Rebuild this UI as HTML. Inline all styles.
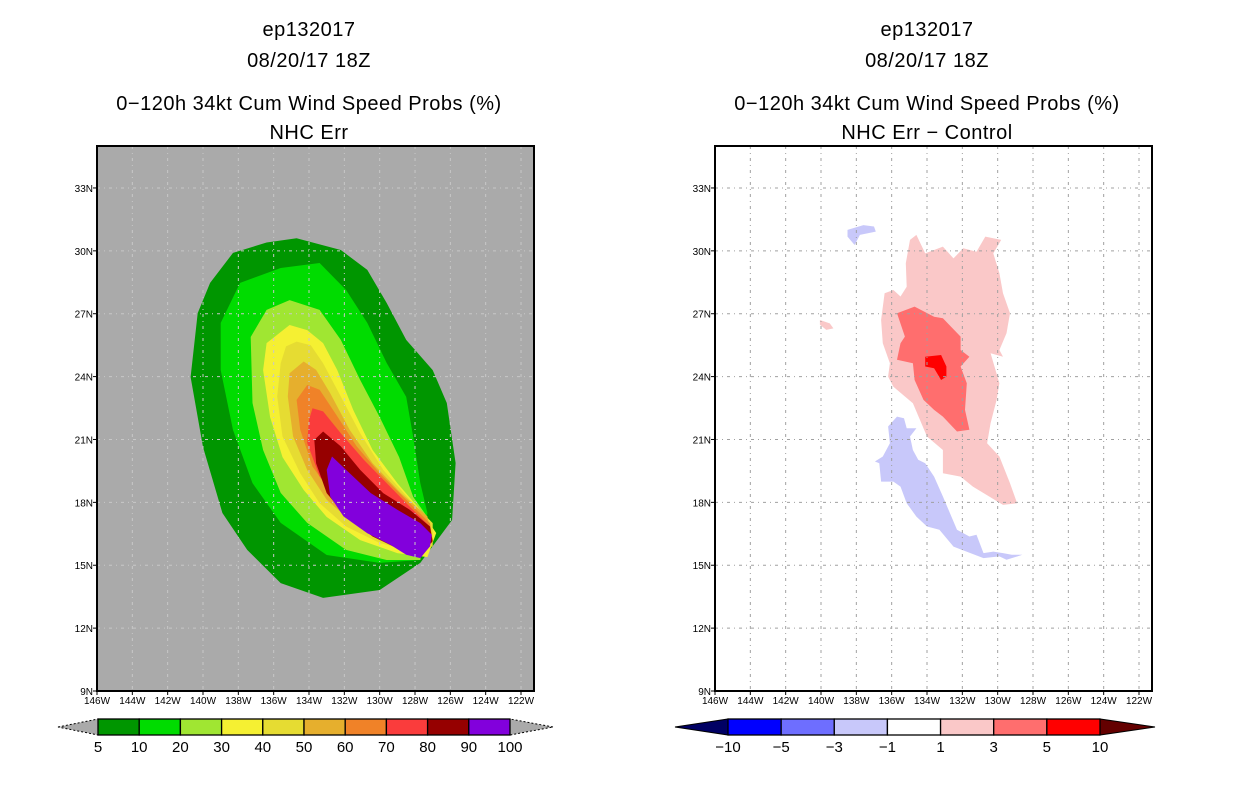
<!DOCTYPE html>
<html><head><meta charset="utf-8"><style>
body{margin:0;background:#fff;width:1236px;height:800px;overflow:hidden}
svg{display:block}
text{font-family:"Liberation Sans",sans-serif}
</style></head><body>
<svg id="fig" width="1236" height="800" viewBox="0 0 1236 800">
<g id="left"></g>
<g id="right"></g>
</svg>
<script>
// ---- data ----
const lonTicks=[146,144,142,140,138,136,134,132,130,128,126,124,122];
const latTicks=[9,12,15,18,21,24,27,30,33];
const probLevels=[5,10,20,30,40,50,60,70,80,90,100];
const probColors=["#009600","#00dc00","#a0e632","#f5f032","#e6dc32","#e6af2d","#f08228","#fa3c3c","#960000","#8200dc"];
const diffLevels=["-10","-5","-3","-1","1","3","5","10"];
const diffColors=["#0000ff","#6e6eff","#c8c8fa","#ffffff","#fac8c8","#ff6e6e","#ff0000"];
// contours in [deg W, deg N]
const p5=[[134.7,30.6],[132.2,30.04],[130.7,29.09],[129.6,27.51],[128.5,25.75],[127.0,24.31],[126.2,22.74],[125.7,19.88],[125.9,17.16],[127.7,15.11],[130.0,13.82],[133.2,13.44],[135.6,14.15],[137.5,15.73],[138.9,17.49],[140.0,20.64],[140.7,23.98],[140.3,27.03],[139.6,28.47],[138.3,29.9],[136.4,30.4]];
const p10=[[135.6,29.18],[133.4,29.42],[131.9,28.13],[130.7,26.56],[129.6,24.65],[128.5,23.03],[128.1,21.12],[127.7,18.92],[127.3,17.49],[127.7,15.25],[130.0,15.11],[133.0,15.49],[135.6,17.02],[137.2,18.92],[138.3,21.45],[139.0,24.31],[139.0,26.56],[137.9,28.47]];
const p20=[[135.1,27.65],[133.4,27.18],[132.2,25.75],[131.1,23.84],[130.0,22.07],[128.9,20.16],[128.1,18.26],[127.3,17.3],[127.7,15.25],[129.6,15.25],[131.9,15.73],[134.1,17.02],[135.6,18.45],[136.6,20.5],[137.2,22.74],[137.3,25.89],[136.4,27.18]];
const p30=[[135.1,26.46],[134.1,26.22],[133.2,25.6],[132.4,24.31],[131.5,22.41],[130.4,20.5],[129.0,18.92],[127.7,17.64],[126.8,16.54],[127.3,15.39],[129.0,15.58],[131.1,16.2],[133.0,17.3],[134.3,18.59],[135.5,20.16],[136.2,22.07],[136.6,24.31],[136.4,25.6]];
const p40=[[134.7,25.67],[133.9,25.5],[133.2,24.64],[132.2,23.05],[131.1,21.3],[129.8,19.55],[128.3,18.12],[127.0,17.01],[127.0,15.9],[128.1,15.66],[130.0,16.06],[131.9,16.85],[133.4,17.96],[134.5,19.39],[135.5,21.14],[135.8,23.05],[135.6,24.64],[135.3,25.44]];
const p50=[[134.3,24.72],[133.6,24.32],[132.8,23.21],[131.7,21.46],[130.4,19.87],[128.8,18.44],[127.3,17.33],[127.0,16.06],[128.1,15.82],[129.6,16.21],[131.5,17.01],[133.0,18.12],[134.1,19.55],[134.9,21.14],[135.2,23.05],[135.1,24.16]];
const p60=[[134.1,23.6],[133.4,23.37],[132.4,22.1],[131.3,20.67],[130.0,19.39],[128.5,18.12],[127.15,17.01],[127.0,16.14],[128.1,15.82],[129.4,16.21],[131.1,17.17],[132.6,18.28],[133.8,19.71],[134.5,21.46],[134.7,22.89]];
const p70=[[133.8,22.49],[133.2,22.34],[132.2,21.3],[130.9,20.03],[129.6,18.92],[128.3,17.8],[127.15,16.85],[127.05,16.14],[127.9,15.66],[129.0,15.9],[130.7,16.85],[132.2,17.96],[133.4,19.24],[134.1,20.83],[134.0,21.94]];
const p80=[[133.2,21.38],[132.2,20.67],[131.1,19.55],[129.8,18.44],[128.3,17.65],[127.15,16.85],[127.0,16.14],[127.7,15.5],[128.85,15.74],[130.4,16.37],[131.9,17.33],[133.0,18.44],[133.6,19.87],[133.7,20.98]];
const p90=[[132.7,20.19],[131.9,19.55],[130.5,18.44],[129.0,17.65],[127.7,17.01],[127.05,16.45],[127.15,15.9],[127.7,15.34],[128.5,15.5],[129.4,15.98],[130.7,16.53],[132.05,17.33],[132.8,18.28],[133.0,19.55]];
const dPink=[[134.6,30.76],[134.1,29.88],[133.1,30.2],[132.5,29.64],[131.95,30.12],[131.2,29.96],[130.7,30.68],[129.8,30.52],[130.25,29.88],[129.9,28.93],[129.7,27.98],[129.3,27.02],[129.5,26.07],[129.9,25.27],[129.7,24.95],[130.4,25.11],[129.9,23.68],[130.06,22.89],[130.4,21.78],[130.6,20.82],[129.9,20.19],[129.3,18.91],[128.9,17.96],[129.7,17.88],[131.4,18.75],[132.1,19.23],[133.1,19.39],[133.1,20.5],[134.0,21.14],[134.8,22.73],[135.9,23.52],[136.2,24.0],[136.1,24.64],[136.5,25.59],[136.6,26.7],[136.4,27.98],[135.9,28.13],[135.5,27.82],[135.15,28.29],[135.2,29.41],[134.96,30.52]];
const dPinkSmall=[[140.06,26.7],[139.5,26.54],[139.3,26.3],[139.7,26.23],[140.06,26.47]];
const dMed=[[135.7,27.02],[134.7,27.34],[133.6,26.86],[133.1,26.78],[132.1,25.91],[132.1,25.27],[131.6,24.95],[132.1,24.48],[131.75,23.68],[131.85,22.41],[131.6,21.46],[132.3,21.38],[133.1,22.09],[133.6,22.41],[134.2,22.89],[134.7,23.84],[134.8,24.64],[135.7,24.8],[135.5,25.59],[135.25,25.91]];
const dRed=[[134.1,24.95],[133.2,25.03],[132.9,24.48],[132.9,24.0],[133.2,23.84],[133.6,24.4],[134.1,24.48]];
const dBlue=[[135.7,22.09],[135.3,22.01],[135.15,21.54],[134.6,21.54],[134.96,21.14],[134.8,20.5],[134.5,20.03],[134.1,19.87],[133.6,19.23],[133.1,18.28],[132.3,16.69],[131.6,16.37],[131.2,16.45],[130.8,15.58],[130.25,15.65],[129.7,15.58],[129.2,15.5],[128.6,15.5],[129.5,15.26],[129.9,15.42],[130.8,15.34],[132.5,15.89],[133.3,16.69],[134.0,16.85],[134.6,17.32],[135.15,17.96],[135.5,18.75],[135.9,18.99],[136.6,18.99],[136.7,19.87],[136.95,19.95],[136.5,20.19],[136.1,20.82],[136.2,21.62]];
const dBlueTop=[[138.5,31.0],[137.6,31.23],[137.0,31.16],[136.9,30.92],[137.8,30.76],[138.1,30.28],[138.5,30.68]];

const NS="http://www.w3.org/2000/svg";
function mk(parent,tag,attrs,txt){const e=document.createElementNS(NS,tag);for(const k in attrs)e.setAttribute(k,attrs[k]);if(txt!==undefined)e.textContent=txt;parent.appendChild(e);return e;}
function axes(x0){return {x:w=>x0+(146-w)*17.667,y:l=>691-(l-9)*20.96};}
function poly(g,A,pts,fill,name){
  const e=mk(g,'polygon',{points:pts.map(p=>A.x(p[0]).toFixed(1)+','+A.y(p[1]).toFixed(1)).join(' '),fill:fill});
  
  
}
function frame(g,A,x0,bg,gridCol,gridDash){
  const r=mk(g,'rect',{x:x0,y:146,width:437,height:545,fill:bg});
  
  
  return r;
}
function gridAndAxes(g,A,x0,gridCol,gridDash){
  const gg=mk(g,'g',{});
  
  
  lonTicks.forEach(w=>{const x=A.x(w);mk(gg,'line',{x1:x,x2:x,y1:146,y2:691,stroke:gridCol,'stroke-width':1,'stroke-dasharray':gridDash});});
  latTicks.forEach(l=>{const y=A.y(l);mk(gg,'line',{x1:x0,x2:x0+437,y1:y,y2:y,stroke:gridCol,'stroke-width':1,'stroke-dasharray':gridDash});});
  const b=mk(g,'rect',{x:x0,y:146,width:437,height:545,fill:'none',stroke:'#000','stroke-width':2});
  
  
  lonTicks.forEach(w=>{const x=A.x(w);mk(g,'line',{x1:x,x2:x,y1:691,y2:695,stroke:'#000'});
    const t=mk(g,'text',{x:x,y:704,'font-size':10,'text-anchor':'middle'},w+'W');
    
    });
  latTicks.forEach(l=>{const y=A.y(l);mk(g,'line',{x1:x0-4,x2:x0,y1:y,y2:y,stroke:'#000'});
    const t=mk(g,'text',{x:x0-4,y:y+4,'font-size':10,'text-anchor':'end'},l+'N');
    
    });
}
function titles(g,cx,sub){
  const lines=[["ep132017",36],["08/20/17 18Z",67],["0\u2212120h 34kt Cum Wind Speed Probs (%)",110],[sub,139]];
  lines.forEach((L,i)=>{const t=mk(g,'text',{x:cx,y:L[1],'font-size':20,'text-anchor':'middle','letter-spacing':'0.5'},L[0]);
    
    });
}
function colorbar(g,x0,x1,tipL,tipR,cols,labels,lcol,rcol){
  const w=(x1-x0)/cols.length,y0=719,y1=735,ym=727;
  const tl=mk(g,'polygon',{points:`${tipL},${ym} ${x0},${y0} ${x0},${y1}`,fill:lcol,stroke:'#000','stroke-dasharray':lcol=='#aaaaaa'?'2,2':'none','stroke-width':1});
  
  
  const tr=mk(g,'polygon',{points:`${tipR},${ym} ${x1},${y0} ${x1},${y1}`,fill:rcol,stroke:'#000','stroke-dasharray':rcol=='#aaaaaa'?'2,2':'none','stroke-width':1});
  
  
  cols.forEach((c,i)=>{const r=mk(g,'rect',{x:x0+i*w,y:y0,width:w,height:y1-y0,fill:c,stroke:'#000','stroke-width':1.3});
    
    });
  labels.forEach((s,i)=>{const t=mk(g,'text',{x:x0+i*w,y:752,'font-size':15,'text-anchor':'middle'},String(s).replace('-','\u2212'));
    
    });
}
// left
const L=document.getElementById('left'),AL=axes(97);
titles(L,309,"NHC Err");
frame(L,AL,97,'#aaaaaa');
[p5,p10,p20,p30,p40,p50,p60,p70,p80,p90].forEach((p,i)=>poly(L,AL,p,probColors[i],'prob-contour-'+probLevels[i]));
gridAndAxes(L,AL,97,'#c8c8c8','3,4,1,4');
colorbar(L,98,510,58,553,probColors,probLevels,'#aaaaaa','#aaaaaa');
// right
const R=document.getElementById('right'),AR=axes(715);
titles(R,927,"NHC Err \u2212 Control");
frame(R,AR,715,'#ffffff');
poly(R,AR,dPink,diffColors[4],'diff-1-3');
poly(R,AR,dPinkSmall,diffColors[4],'diff-1-3-small');
poly(R,AR,dMed,diffColors[5],'diff-3-5');
poly(R,AR,dRed,diffColors[6],'diff-5-10');
poly(R,AR,dBlue,diffColors[2],'diff-neg1-neg3');
poly(R,AR,dBlueTop,diffColors[2],'diff-neg1-neg3-top');
gridAndAxes(R,AR,715,'#a0a0a0','3,4,1,4');
colorbar(R,728,1100,675,1155,diffColors,diffLevels,'#000064','#640000');
</script>
</body></html>
